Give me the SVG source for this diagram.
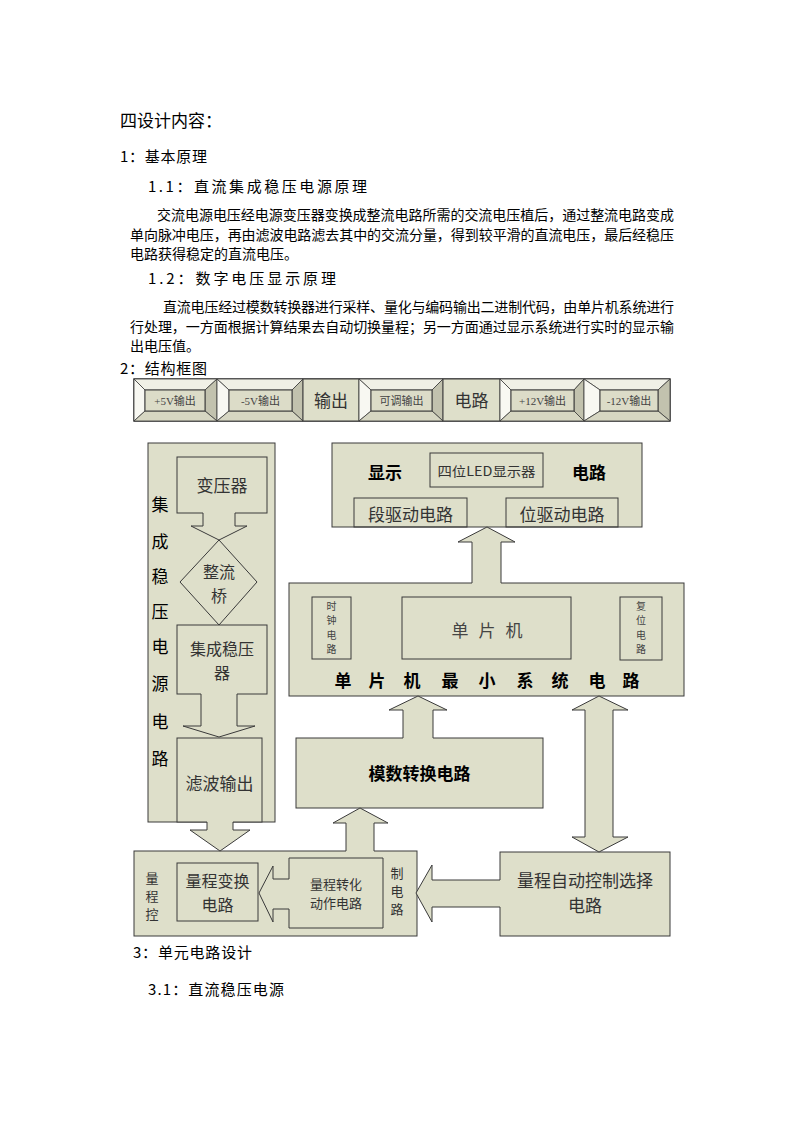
<svg xmlns="http://www.w3.org/2000/svg" width="794" height="1123" viewBox="0 0 794 1123">
<style>
.bg{fill:#ffffff}
.box{fill:#dedfca;stroke:#3a3a3a;stroke-width:1}
.inner{fill:none;stroke:#3a3a3a;stroke-width:1}
.af{fill:#dedfca;stroke:none}
.al{fill:none;stroke:#3a3a3a;stroke-width:1;stroke-linejoin:miter}
.ft{fill:#f0f0e6;stroke:#3a3a3a;stroke-width:0.8}
.fl{fill:#f8f8f2;stroke:#3a3a3a;stroke-width:0.8}
.fr{fill:#c2c2ae;stroke:#3a3a3a;stroke-width:0.8}
.fb{fill:#d6d6c2;stroke:#3a3a3a;stroke-width:0.8}
.fi{fill:#dcdcc8;stroke:#3a3a3a;stroke-width:1}
text{font-family:"Noto Sans CJK SC","Noto Sans",sans-serif;dominant-baseline:central}
.h{fill:#000;font-size:15px}
.p{fill:#000;font-size:14px}
.g{fill:#333;font-size:17px;text-anchor:middle}
.b{fill:#000;font-size:17px;font-weight:bold;text-anchor:middle}
.s{fill:#444;font-size:11px;text-anchor:middle;font-family:"Liberation Serif","Noto Sans CJK SC",serif}
.v{fill:#444;font-size:10px;text-anchor:middle}
.sm{fill:#333;font-size:13px;text-anchor:middle}
.vt{fill:#000;font-size:17px;text-anchor:middle}
</style>
<rect class="bg" x="0" y="0" width="794" height="1123"/>

<g id="text-header">
<text class="h" x="120" y="119" style="font-size:17px" textLength="102" lengthAdjust="spacing">四设计内容：</text>
<text class="h" x="120" y="155" textLength="87" lengthAdjust="spacing">1：基本原理</text>
<text class="h" x="148" y="185" textLength="219" lengthAdjust="spacing">1.1：直流集成稳压电源原理</text>
<text class="p" x="157" y="214" textLength="517" lengthAdjust="spacing">交流电源电压经电源变压器变换成整流电路所需的交流电压植后，通过整流电路变成</text>
<text class="p" x="130" y="234" textLength="544" lengthAdjust="spacing">单向脉冲电压，再由滤波电路滤去其中的交流分量，得到较平滑的直流电压，最后经稳压</text>
<text class="p" x="130" y="253" textLength="168" lengthAdjust="spacing">电路获得稳定的直流电压。</text>
<text class="h" x="148" y="277" textLength="188" lengthAdjust="spacing">1.2：数字电压显示原理</text>
<text class="p" x="163" y="306" textLength="511" lengthAdjust="spacing">直流电压经过模数转换器进行采样、量化与编码输出二进制代码，由单片机系统进行</text>
<text class="p" x="130" y="326" textLength="544" lengthAdjust="spacing">行处理，一方面根据计算结果去自动切换量程；另一方面通过显示系统进行实时的显示输</text>
<text class="p" x="130" y="345" textLength="70" lengthAdjust="spacing">出电压值。</text>
<text class="h" x="120" y="367" textLength="87" lengthAdjust="spacing">2：结构框图</text>
</g>

<g id="output-bar">
<rect class="box" x="134" y="379" width="536" height="42" style="stroke-width:1.5"/>
<g id="out-p5">
<polygon class="ft" points="134,379 217,379 205,390 145,390"/>
<polygon class="fl" points="134,379 145,390 145,411 134,421"/>
<polygon class="fr" points="217,379 217,421 205,411 205,390"/>
<polygon class="fb" points="134,421 145,411 205,411 217,421"/>
<rect class="fi" x="145" y="390" width="60" height="21"/>
<text class="s" x="175" y="400.5">+5V输出</text>
</g>
<g id="out-m5">
<polygon class="ft" points="217,379 303,379 292,390 229,390"/>
<polygon class="fl" points="217,379 229,390 229,411 217,421"/>
<polygon class="fr" points="303,379 303,421 292,411 292,390"/>
<polygon class="fb" points="217,421 229,411 292,411 303,421"/>
<rect class="fi" x="229" y="390" width="63" height="21"/>
<text class="s" x="260.5" y="400.5">-5V输出</text>
</g>
<g id="out-label1">
<rect class="box" x="303" y="379" width="56" height="42"/>
<text class="g" x="331" y="399">输出</text>
</g>
<g id="out-adj">
<polygon class="ft" points="359,379 443,379 432,390 371,390"/>
<polygon class="fl" points="359,379 371,390 371,411 359,421"/>
<polygon class="fr" points="443,379 443,421 432,411 432,390"/>
<polygon class="fb" points="359,421 371,411 432,411 443,421"/>
<rect class="fi" x="371" y="390" width="61" height="21"/>
<text class="s" x="401.5" y="400.5">可调输出</text>
</g>
<g id="out-label2">
<rect class="box" x="443" y="379" width="57" height="42"/>
<text class="g" x="471.5" y="399">电路</text>
</g>
<g id="out-p12">
<polygon class="ft" points="500,379 584,379 574,390 511,390"/>
<polygon class="fl" points="500,379 511,390 511,411 500,421"/>
<polygon class="fr" points="584,379 584,421 574,411 574,390"/>
<polygon class="fb" points="500,421 511,411 574,411 584,421"/>
<rect class="fi" x="511" y="390" width="63" height="21"/>
<text class="s" x="542.5" y="400.5">+12V输出</text>
</g>
<g id="out-m12">
<polygon class="ft" points="584,379 670,379 658,390 600,390"/>
<polygon class="fl" points="584,379 600,390 600,411 584,421"/>
<polygon class="fr" points="670,379 670,421 658,411 658,390"/>
<polygon class="fb" points="584,421 600,411 658,411 670,421"/>
<rect class="fi" x="600" y="390" width="58" height="21"/>
<text class="s" x="629" y="400.5">-12V输出</text>
</g>
</g>

<g id="power-column">
<rect class="box" x="148" y="443" width="127" height="379"/>
<text class="vt" x="160" y="503">集</text>
<text class="vt" x="160" y="540">成</text>
<text class="vt" x="160" y="575">稳</text>
<text class="vt" x="160" y="610">压</text>
<text class="vt" x="160" y="645">电</text>
<text class="vt" x="160" y="682">源</text>
<text class="vt" x="160" y="720">电</text>
<text class="vt" x="160" y="757">路</text>
</g>
<g id="transformer">
<rect class="box" x="177" y="457" width="90" height="56"/>
<text class="g" x="222" y="484">变压器</text>
</g>
<g id="bridge">
<polygon class="box" points="219,540 257,582 219,625 180,582"/>
<text class="g" style="font-size:16px" x="219" y="571">整流<tspan x="219" dy="23.5">桥</tspan></text>
</g>
<g id="regulator">
<rect class="box" x="177" y="625" width="90" height="69"/>
<text class="g" style="font-size:16px" x="222" y="648">集成稳压<tspan x="222" dy="24">器</tspan></text>
</g>
<g id="filter">
<rect class="box" x="177" y="738" width="85" height="84"/>
<text class="g" x="219.5" y="782">滤波输出</text>
</g>

<g id="display">
<rect class="box" x="332" y="443" width="310" height="84"/>
<text class="b" x="385" y="471">显示</text>
<text class="b" x="589" y="471">电路</text>
<rect class="inner" x="430" y="453" width="113" height="34"/>
<text class="sm" x="486.5" y="470" textLength="98" lengthAdjust="spacingAndGlyphs">四位LED显示器</text>
<rect class="inner" x="354" y="498" width="113" height="29"/>
<text class="g" x="410.5" y="513">段驱动电路</text>
<rect class="inner" x="506" y="498" width="112" height="29"/>
<text class="g" x="562" y="513">位驱动电路</text>
</g>

<g id="mcu">
<rect class="box" x="289" y="583" width="395" height="113"/>
<rect class="inner" x="312" y="597" width="39" height="62"/>
<text class="v" x="331.5" y="605">时</text>
<text class="v" x="331.5" y="619.5">钟</text>
<text class="v" x="331.5" y="634">电</text>
<text class="v" x="331.5" y="648.5">路</text>
<rect class="inner" x="402" y="597" width="169" height="62"/>
<text class="g" style="fill:#444" x="460" y="629">单</text>
<text class="g" style="fill:#444" x="487" y="629">片</text>
<text class="g" style="fill:#444" x="514" y="629">机</text>
<rect class="inner" x="620" y="597" width="42" height="63"/>
<text class="v" x="641" y="605">复</text>
<text class="v" x="641" y="619.5">位</text>
<text class="v" x="641" y="634">电</text>
<text class="v" x="641" y="648.5">路</text>
<text class="b" x="343" y="679">单</text>
<text class="b" x="377" y="679">片</text>
<text class="b" x="412" y="679">机</text>
<text class="b" x="450" y="679">最</text>
<text class="b" x="487" y="679">小</text>
<text class="b" x="525" y="679">系</text>
<text class="b" x="560" y="679">统</text>
<text class="b" x="597" y="679">电</text>
<text class="b" x="631" y="679">路</text>
</g>

<g id="adc">
<rect class="box" x="296" y="738" width="247" height="70"/>
<text class="b" x="419.5" y="772">模数转换电路</text>
</g>

<g id="range-control">
<rect class="box" x="134" y="851" width="283" height="85"/>
<text class="sm" x="152" y="877">量</text>
<text class="sm" x="152" y="895">程</text>
<text class="sm" x="152" y="913">控</text>
<text class="sm" x="397" y="872">制</text>
<text class="sm" x="397" y="890">电</text>
<text class="sm" x="397" y="908">路</text>
</g>
<g id="range-switch">
<rect class="inner" x="177" y="863" width="81" height="58"/>
<text class="g" style="font-size:16px" x="217.5" y="880">量程变换<tspan x="217.5" dy="24">电路</tspan></text>
</g>
<g id="range-actuator">
<polygon class="inner" points="289,858 383,858 383,928 289,928 289,909 273,909 273,922 259,893 273,866 273,879 289,879"/>
<text class="sm" x="336" y="883">量程转化<tspan x="336" dy="19">动作电路</tspan></text>
</g>

<g id="auto-range">
<rect class="box" x="500" y="852" width="170" height="84"/>
<text class="g" x="585" y="879">量程自动控制选择<tspan x="585" dy="25">电路</tspan></text>
</g>

<g id="connectors">
<polygon class="af" points="203,512 235,512 235,526 247,526 219,540 191,526 203,526"/>
<polyline class="al" points="203,513 203,526 191,526 219,540 247,526 235,526 235,513"/>
<polygon class="af" points="201,693 237,693 237,726 255,726 219,737 183,726 201,726"/>
<polyline class="al" points="201,694 201,726 183,726 219,737 255,726 237,726 237,694"/>
<polygon class="af" points="207,821 233,821 233,830 250,830 220,851 190,830 207,830"/>
<polyline class="al" points="207,822 207,830 190,830 220,851 250,830 233,830 233,822"/>
<polygon class="af" points="346,852 374,852 374,823 388,823 360,808 333,823 346,823"/>
<polyline class="al" points="346,851 346,823 333,823 360,808 388,823 374,823 374,851"/>
<polygon class="af" points="403,739 433,739 433,710 447,710 418,696 389,710 403,710"/>
<polyline class="al" points="403,738 403,710 389,710 418,696 447,710 433,710 433,738"/>
<polygon class="af" points="472,584 501,584 501,542 515,542 487,527 458,542 472,542"/>
<polyline class="al" points="472,583 472,542 458,542 487,527 515,542 501,542 501,583"/>
<polygon class="box" points="599,696 628,710 613,710 613,837 628,837 599,852 572,837 585,837 585,710 572,710"/>
<polygon class="af" points="501,880 501,907 432,907 432,922 416,893 432,865 432,880"/>
<polyline class="al" points="500,880 432,880 432,865 416,893 432,922 432,907 500,907"/>
</g>

<g id="text-footer">
<text class="h" x="133" y="951" textLength="119" lengthAdjust="spacing">3：单元电路设计</text>
<text class="h" x="148" y="988" textLength="136" lengthAdjust="spacing">3.1：直流稳压电源</text>
</g>
</svg>
